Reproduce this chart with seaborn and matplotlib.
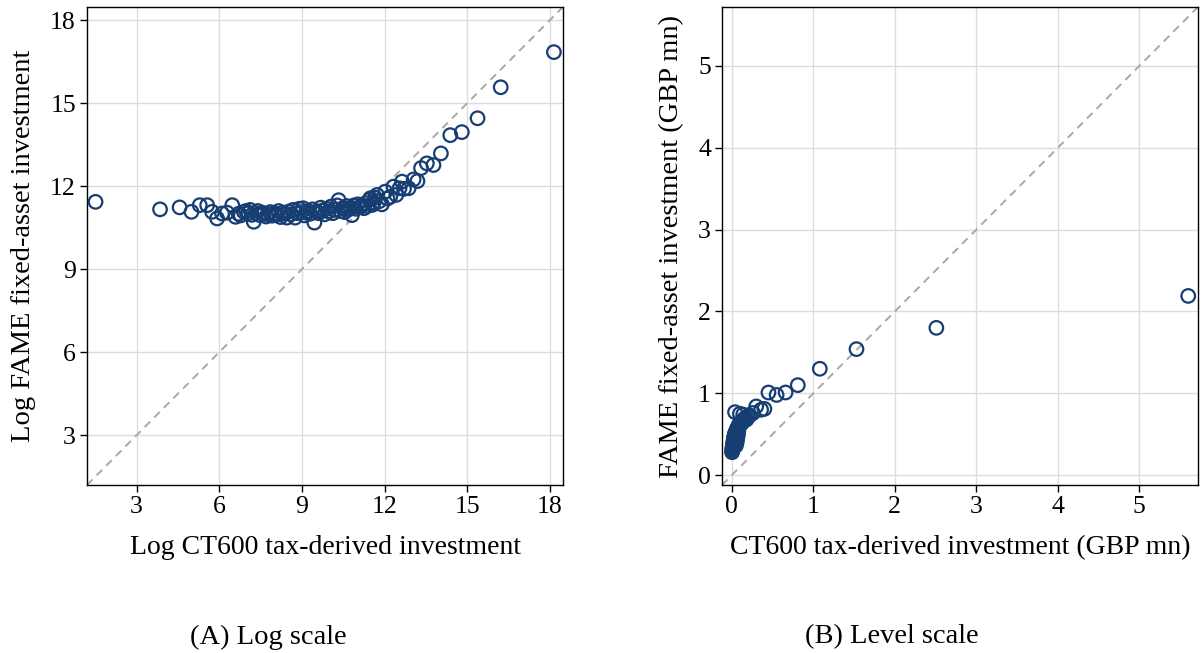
import matplotlib
matplotlib.use("Agg")
import matplotlib.pyplot as plt
import seaborn as sns
import pandas as pd

# Binned scatter: log CT600 tax-derived investment vs log FAME fixed-asset investment
log_ct600 = [
    1.51, 3.85, 4.56, 4.99, 5.29, 5.56, 5.74, 5.92, 6.10, 6.28,
    6.47, 6.59, 6.70, 6.78, 6.89, 6.97, 7.05, 7.12, 7.18, 7.25,
    7.32, 7.40, 7.47, 7.55, 7.62, 7.70, 7.78, 7.85, 7.92, 8.00,
    8.08, 8.15, 8.22, 8.30, 8.38, 8.45, 8.52, 8.60, 8.68, 8.75,
    8.82, 8.90, 8.97, 9.04, 9.10, 9.16, 9.22, 9.30, 9.38, 9.45,
    9.52, 9.60, 9.68, 9.75, 9.82, 9.90, 9.97, 10.05, 10.12, 10.20,
    10.28, 10.33, 10.40, 10.48, 10.55, 10.62, 10.70, 10.78, 10.81, 10.88,
    10.95, 11.02, 11.10, 11.18, 11.25, 11.30, 11.38, 11.45, 11.48, 11.55,
    11.60, 11.65, 11.72, 11.80, 11.90, 12.02, 12.10, 12.20, 12.32, 12.42,
    12.54, 12.63, 12.70, 12.87, 13.05, 13.19, 13.32, 13.53, 13.77, 14.04,
    14.38, 14.80, 15.37, 16.21, 18.14,
]
log_fame = [
    11.43, 11.16, 11.23, 11.07, 11.31, 11.31, 11.07, 10.83, 11.01, 11.04,
    11.31, 10.89, 11.00, 10.94, 11.07, 11.10, 11.02, 11.14, 10.96, 10.71,
    11.02, 11.10, 10.95, 11.04, 11.00, 10.90, 10.98, 11.06, 10.93, 11.02,
    10.96, 11.10, 10.88, 11.04, 11.00, 10.86, 11.08, 10.98, 11.14, 10.86,
    11.02, 11.18, 11.06, 11.20, 10.94, 11.04, 11.10, 11.00, 11.16, 10.68,
    11.08, 11.02, 11.22, 11.12, 10.98, 11.18, 11.08, 11.26, 11.02, 11.14,
    11.30, 11.49, 11.10, 11.20, 11.06, 11.28, 11.16, 11.22, 10.95, 11.30,
    11.18, 11.34, 11.24, 11.30, 11.20, 11.38, 11.28, 11.50, 11.56, 11.32,
    11.40, 11.58, 11.68, 11.45, 11.34, 11.80, 11.55, 11.61, 11.98, 11.68,
    11.92, 12.16, 11.90, 11.92, 12.24, 12.18, 12.65, 12.82, 12.76, 13.18,
    13.84, 13.95, 14.45, 15.57, 16.84,
]

# Binned scatter in levels (GBP mn)
ct600_level = [
    0.004, 0.006, 0.008, 0.010, 0.012, 0.014, 0.016, 0.018, 0.020, 0.022,
    0.024, 0.026, 0.028, 0.030, 0.032, 0.034, 0.036, 0.038, 0.040, 0.043,
    0.046, 0.050, 0.054, 0.058, 0.062, 0.066, 0.070, 0.075, 0.080, 0.086,
    0.092, 0.100, 0.108, 0.116, 0.125, 0.135, 0.145, 0.155, 0.165, 0.180,
    0.195, 0.220, 0.260, 0.300, 0.360, 0.400, 0.450, 0.550, 0.660, 0.810,
    1.080, 1.530, 2.510, 5.600, 0.040, 0.100, 0.140, 0.180,
    0.050, 0.060, 0.065, 0.070, 0.075, 0.080,
]
fame_level = [
    0.28, 0.30, 0.32, 0.34, 0.33, 0.36, 0.38, 0.37, 0.40, 0.42,
    0.41, 0.44, 0.45, 0.43, 0.47, 0.48, 0.46, 0.50, 0.49, 0.51,
    0.52, 0.50, 0.54, 0.53, 0.55, 0.57, 0.56, 0.58, 0.60, 0.59,
    0.62, 0.61, 0.64, 0.63, 0.66, 0.65, 0.68, 0.67, 0.70, 0.69,
    0.72, 0.73, 0.76, 0.84, 0.80, 0.81, 1.01, 0.98, 1.01, 1.10,
    1.30, 1.54, 1.80, 2.19, 0.77, 0.75, 0.74, 0.68,
    0.36, 0.40, 0.44, 0.47, 0.50, 0.53,
]

log_ticks = [3, 6, 9, 12, 15, 18]
level_ticks = [0, 1, 2, 3, 4, 5]
log_lim = (1.2, 18.47)
level_lim = (-0.12, 5.72)

NAVY = "#173e72"
GRID = "#dcdcdc"

sns.set_style("ticks")
plt.rcParams["font.family"] = ["Liberation Serif", "DejaVu Serif"]
plt.rcParams["font.size"] = 19
plt.rcParams["text.color"] = "black"
plt.rcParams["axes.labelcolor"] = "black"

fig = plt.figure(figsize=(12.01, 6.53), dpi=100)
W, H = 1201, 653
ax_log = fig.add_axes([87 / W, (H - 485) / H, 476 / W, 478 / H])
ax_lvl = fig.add_axes([722 / W, (H - 485) / H, 476 / W, 478 / H])

df_log = pd.DataFrame({"x": log_ct600, "y": log_fame})
df_lvl = pd.DataFrame({"x": ct600_level, "y": fame_level})


def draw_panel(ax, df, lim, ticks, xlabel, ylabel):
    ax.plot(lim, lim, ls=(0, (4, 3)), color="#a8a8a8", lw=1.4, zorder=1)
    sns.scatterplot(data=df, x="x", y="y", ax=ax, s=95, marker="o",
                    facecolors="none", edgecolors=NAVY, linewidth=1.6,
                    zorder=3, legend=False)
    ax.set_xlim(lim)
    ax.set_ylim(lim)
    ax.set_xticks(ticks)
    ax.set_yticks(ticks)
    ax.grid(True, color=GRID, lw=1.0, zorder=0)
    ax.set_axisbelow(True)
    for sp in ax.spines.values():
        sp.set_visible(True)
        sp.set_color("black")
        sp.set_linewidth(1.0)
    ax.tick_params(axis="both", direction="out", length=5, width=1,
                   labelsize=18.5, pad=3, colors="black")
    ax.set_xlabel(xlabel, fontsize=20, labelpad=12, color="black")
    ax.set_ylabel(ylabel, fontsize=20.5, labelpad=10, color="black")


draw_panel(ax_log, df_log, log_lim, log_ticks,
           "Log CT600 tax-derived investment", "Log FAME fixed-asset investment")
draw_panel(ax_lvl, df_lvl, level_lim, level_ticks,
           "CT600 tax-derived investment (GBP mn)", "FAME fixed-asset investment (GBP mn)")

fig.text(268 / W, 1 - 637 / H, "(A) Log scale", ha="center", va="center",
         fontsize=20.5, color="black")
fig.text(892 / W, 1 - 637 / H, "(B) Level scale", ha="center", va="center",
         fontsize=20.5, color="black")

fig.savefig("out.png", dpi=100)
